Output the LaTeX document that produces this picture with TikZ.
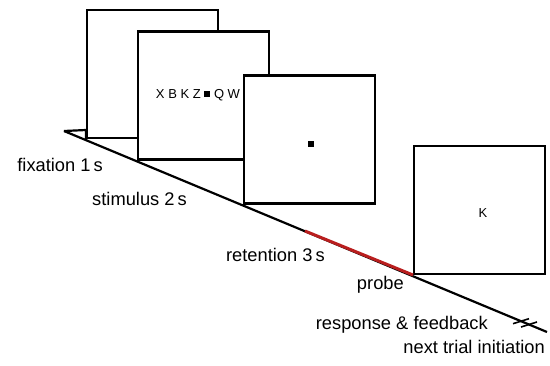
\documentclass[tikz,border=0pt]{standalone}
\usepackage{fontspec}
\setmainfont{Liberation Sans}
\definecolor{probered}{RGB}{185,30,30}
\begin{document}
\begin{tikzpicture}[x=1pt,y=-1pt,
  screen/.style={draw,line width=2.3pt,fill=white,minimum width=131pt,minimum height=128pt,anchor=south west,inner sep=0pt},
  stim/.style={inner sep=0pt,font=\fontsize{13}{15}\selectfont},
  lbl/.style={inner sep=0pt,anchor=base east,font=\fontsize{18.3}{21}\selectfont}]
  \useasboundingbox (0,0) rectangle (550,365);

  % time axis
  \coordinate (t0) at (64,131);
  \coordinate (tend) at (547,332);
  \coordinate (ret) at (305,231);
  \draw[line width=2.2pt] (t0) -- (tend);
  \draw[line width=2.2pt] (t0) -- (86,130) -- (86,140);

  % screens
  \node[screen] (fix) at (86,139) {};
  \node[screen] (stm) at (137,160.5) {};
  \node[stim] (letters) at (198,95) {X B K Z \rule[1.5pt]{6pt}{6pt} Q W};
  \node[screen] (rtn) at (243,204.5) {};
  \node[fill=black,inner sep=0pt,minimum size=6pt] (dot) at (311,144) {};
  \node[screen] (prb) at (413,275) {};
  \node[stim] (probeletter) at (483,213) {K};

  \draw[probered,line width=3pt] (ret) -- (prb.south west);

  % break marks
  \foreach \sx/\sy in {521/321.2,529/324.5}
    \draw[line width=1.6pt] ({\sx-8},{\sy+2.5}) -- ({\sx+8},{\sy-2.5});

  % labels
  \node[lbl] (lfix) at (103,171) {fixation 1\,s};
  \node[lbl] (lstm) at (187,205) {stimulus 2\,s};
  \node[lbl] (lrtn) at (325,261) {retention 3\,s};
  \node[lbl] (lprb) at (404,289) {probe};
  \node[lbl] (lrsp) at (488,329) {response \& feedback};
  \node[lbl] (lnxt) at (545,353) {next trial initiation};
\end{tikzpicture}
\end{document}
